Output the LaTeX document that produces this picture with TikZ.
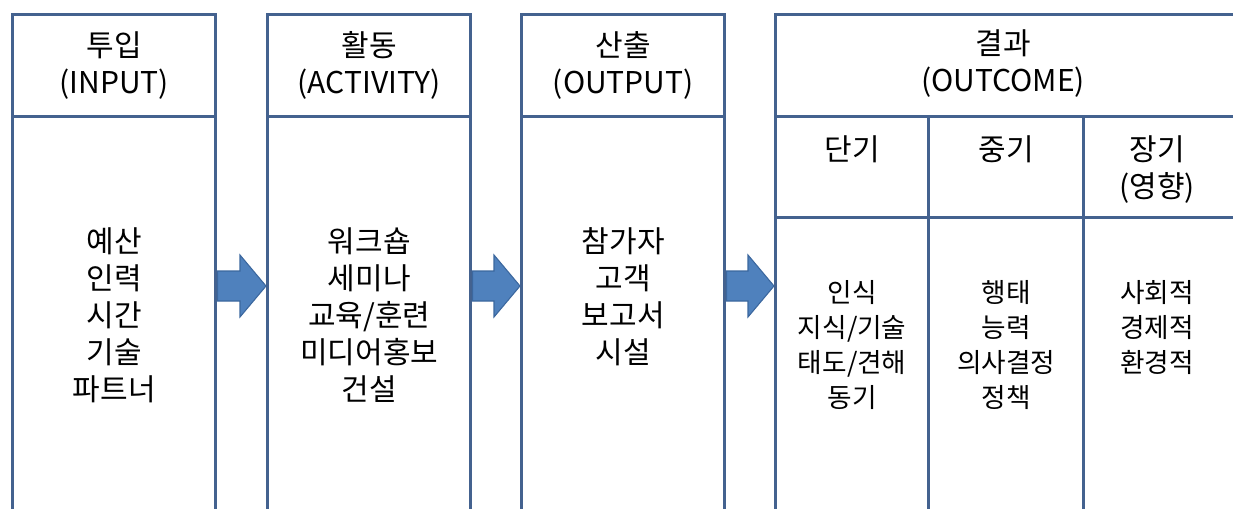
\documentclass[tikz,border=0pt]{standalone}
\usepackage{fontspec}
\setmainfont{Noto Sans CJK KR}
\usetikzlibrary{calc}
\definecolor{boxline}{HTML}{44628F}
\definecolor{arrfill}{HTML}{4F81BD}
\definecolor{arrline}{HTML}{3B679E}
\begin{document}
\begin{tikzpicture}[x=0.75pt,y=-0.75pt,
  cell/.style={draw=boxline, line width=2.6pt, inner sep=0pt, anchor=north west, align=center,
    font={\fontsize{22.5}{27.75}\selectfont}},
  bigtxt/.style={inner sep=0pt, anchor=north, align=center, font={\fontsize{22.5}{27.75}\selectfont}},
  smalltxt/.style={inner sep=0pt, anchor=north, align=center, font={\fontsize{20}{26.25}\selectfont}},
  blockarrow/.style={fill=arrfill, draw=arrline, line width=0.8pt, line join=miter}]
\useasboundingbox (0,0) rectangle (1233,508);
\clip (0,0) rectangle (1233,508);
% bodies first so headers overlap their top lines
\node[cell, minimum width=0.75pt*203, minimum height=0.75pt*420] (inb) at (11,115) {};
\node[cell, minimum width=0.75pt*203, minimum height=0.75pt*420] (actb) at (266,115) {};
\node[cell, minimum width=0.75pt*203, minimum height=0.75pt*420] (outb) at (520,115) {};
\node[cell, minimum width=0.75pt*153, minimum height=0.75pt*320] (s1b) at (774,216) {};
\node[cell, minimum width=0.75pt*155, minimum height=0.75pt*320] (s2b) at (927,216) {};
\node[cell, minimum width=0.75pt*160, minimum height=0.75pt*320] (s3b) at (1082,216) {};
% headers
\node[cell, minimum width=0.75pt*203, minimum height=0.75pt*102] (inh) at (11,13) {투입\\(INPUT)};
\node[cell, minimum width=0.75pt*203, minimum height=0.75pt*102] (acth) at (266,13) {활동\\(ACTIVITY)};
\node[cell, minimum width=0.75pt*203, minimum height=0.75pt*102] (outh) at (520,13) {산출\\(OUTPUT)};
\node[cell, minimum width=0.75pt*468, minimum height=0.75pt*102] (och) at (774,13) {};
\node[bigtxt, anchor=center] (ocht) at (1003,64) {결과\\(OUTCOME)};
\node[cell, minimum width=0.75pt*153, minimum height=0.75pt*101] (s1h) at (774,115) {};
\node[cell, minimum width=0.75pt*155, minimum height=0.75pt*101] (s2h) at (927,115) {};
\node[cell, minimum width=0.75pt*160, minimum height=0.75pt*101] (s3h) at (1082,115) {};
% sub-header texts
\node[bigtxt] (s1ht) at ($(s1h.north)+(0,20)$) {단기};
\node[bigtxt] (s2ht) at ($(s2h.north)+(0,20)$) {중기};
\node[bigtxt] (s3ht) at (1157,135) {장기\\(영향)};
% body texts
\node[bigtxt] (int) at ($(inb.north)+(0,112)$) {예산\\인력\\시간\\기술\\파트너};
\node[bigtxt] (actt) at ($(actb.north)+(0,112)$) {워크숍\\세미나\\교육/훈련\\미디어홍보\\건설};
\node[bigtxt] (outt) at ($(outb.north)+(0,112)$) {참가자\\고객\\보고서\\시설};
\node[smalltxt] (s1t) at ($(s1b.north)+(0,64)$) {인식\\지식/기술\\태도/견해\\동기};
\node[smalltxt] (s2t) at ($(s2b.north)+(0,64)$) {행태\\능력\\의사결정\\정책};
\node[smalltxt] (s3t) at (1157,280) {사회적\\경제적\\환경적};
% block arrows between boxes
\foreach \a/\b in {inb/actb, actb/outb, outb/s1b}{
  \coordinate (st) at (\a.east |- 0,286);
  \coordinate (en) at (\b.west |- 0,286);
  \draw[blockarrow] ($(st)+(0,-15)$) -- ($(en)+(-26,-15)$) -- ($(en)+(-26,-31)$) -- (en)
     -- ($(en)+(-26,31)$) -- ($(en)+(-26,15)$) -- ($(st)+(0,15)$) -- cycle;
}
\end{tikzpicture}
\end{document}
